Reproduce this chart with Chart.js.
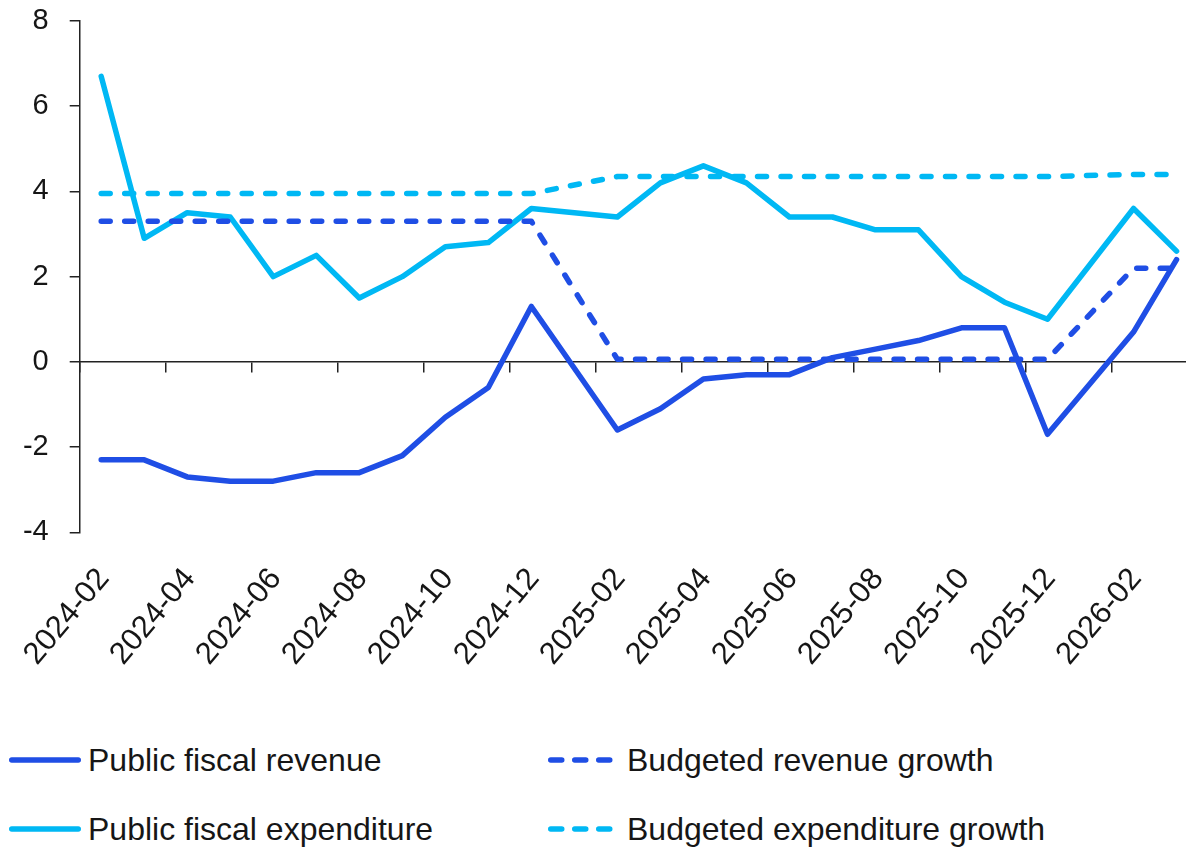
<!DOCTYPE html>
<html>
<head>
<meta charset="utf-8">
<script src="https://cdn.jsdelivr.net/npm/chart.js@4.4.1/dist/chart.umd.min.js"></script>
<style>
  html, body { margin: 0; padding: 0; background: #fff; }
  #wrap { position: relative; width: 1186px; height: 847px; overflow: hidden;
          font-family: "Liberation Sans", Arial, sans-serif; }
  #chart { position: absolute; left: 0; top: 0; }
  .lg-sample { position: absolute; }
  .lg-text { position: absolute; font-size: 32px; line-height: 36px; color: #161616; white-space: nowrap; }
</style>
</head>
<body>
<div id="wrap">
  <canvas id="chart" width="1186" height="700"></canvas>
  <div id="legend"></div>
</div>
<script>
// Monthly readings, 2024-02 .. 2026-03 (January is reported together with February)
const months = [
  '2024-02','2024-03','2024-04','2024-05','2024-06','2024-07','2024-08','2024-09',
  '2024-10','2024-11','2024-12','2025-01','2025-02','2025-03','2025-04','2025-05',
  '2025-06','2025-07','2025-08','2025-09','2025-10','2025-11','2025-12','2026-01',
  '2026-02','2026-03'
];

// Year-on-year growth, %
const revenue = [
  -2.3, -2.3, -2.7, -2.8, -2.8, -2.6, -2.6, -2.2, -1.3, -0.6, 1.3, null,
  -1.6, -1.1, -0.4, -0.3, -0.3, 0.1, 0.3, 0.5, 0.8, 0.8, -1.7, null,
  0.7, 2.4
];
const expenditure = [
  6.7, 2.9, 3.5, 3.4, 2.0, 2.5, 1.5, 2.0, 2.7, 2.8, 3.6, null,
  3.4, 4.2, 4.6, 4.2, 3.4, 3.4, 3.1, 3.1, 2.0, 1.4, 1.0, null,
  3.6, 2.6
];
const budgetRevenue = [
  3.3, 3.3, 3.3, 3.3, 3.3, 3.3, 3.3, 3.3, 3.3, 3.3, 3.3, null,
  0.06, 0.06, 0.06, 0.06, 0.06, 0.06, 0.06, 0.06, 0.06, 0.06, 0.06, null,
  2.2, 2.2
];
const budgetExpenditure = [
  3.95, 3.95, 3.95, 3.95, 3.95, 3.95, 3.95, 3.95, 3.95, 3.95, 3.95, null,
  4.35, 4.35, 4.35, 4.35, 4.35, 4.35, 4.35, 4.35, 4.35, 4.35, 4.35, null,
  4.4, 4.4
];

const yMin = -4, yMax = 8, yStep = 2;
const xTickStep = 2;            // label every other month
const xMax = 25.72;             // axis runs a little past the last month

const DARK_BLUE = '#1F4EE5';
const CYAN = '#00B8F4';
const AXIS = '#222';
const TEXT = '#161616';
const FONT = '"Liberation Sans", Arial, sans-serif';

// each month sits in the middle of its slot on the axis
const toPoints = vals => months.map((m, i) => ({ x: i + 0.5, y: vals[i] }));

const line = (label, vals, color, dashed) => ({
  label,
  data: toPoints(vals),
  borderColor: color,
  backgroundColor: color,
  borderWidth: 5.5,
  borderDash: dashed ? [9, 14.5] : [],
  borderCapStyle: 'round',
  borderJoinStyle: 'round',
  pointRadius: 0,
  tension: 0,
  spanGaps: true,
  xAxisID: 'x',
  yAxisID: 'y'
});

const CANVAS_H = 700;
const PLOT_BOTTOM = 532.3;
const PLOT_LEFT = 79.7;

const chart = new Chart(document.getElementById('chart'), {
  type: 'line',
  data: {
    datasets: [
      line('Public fiscal revenue', revenue, DARK_BLUE, false),
      line('Budgeted revenue growth', budgetRevenue, DARK_BLUE, true),
      line('Public fiscal expenditure', expenditure, CYAN, false),
      line('Budgeted expenditure growth', budgetExpenditure, CYAN, true)
    ]
  },
  options: {
    responsive: false,
    animation: false,
    devicePixelRatio: 1,
    layout: { padding: { top: 21, left: 0, right: 0, bottom: 0 } },
    plugins: { legend: { display: false }, tooltip: { enabled: false } },
    scales: {
      // month labels along the bottom
      x: {
        type: 'linear', position: 'bottom', min: 0, max: xMax,
        grid: { display: false, drawTicks: false },
        border: { display: false },
        ticks: {
          stepSize: xTickStep, autoSkip: false, includeBounds: false,
          minRotation: 50, maxRotation: 50, padding: 29, labelOffset: 24,
          color: TEXT, font: { family: FONT, size: 31 },
          callback: v => Number.isInteger(v) ? months[v] : ''
        },
        afterFit: s => { s.height = CANVAS_H - PLOT_BOTTOM; s.paddingLeft = 0; s.paddingRight = 0; }
      },
      // horizontal axis line through zero with tick marks
      x0: {
        type: 'linear', position: { y: 0 }, min: 0, max: xMax,
        grid: { drawOnChartArea: false, drawTicks: true, tickLength: 10, color: AXIS, lineWidth: 1.5 },
        border: { display: true, color: AXIS, width: 1.5 },
        ticks: { display: false, stepSize: xTickStep, includeBounds: false, autoSkip: false },
        afterFit: s => { s.paddingLeft = 0; s.paddingRight = 0; s.paddingTop = 0; s.paddingBottom = 0; }
      },
      y: {
        min: yMin, max: yMax,
        grid: { drawOnChartArea: false, drawTicks: true, tickLength: 10, color: AXIS, lineWidth: 1.5 },
        border: { display: true, color: AXIS, width: 1.5 },
        ticks: { stepSize: yStep, padding: 21, color: TEXT, font: { family: FONT, size: 29 } },
        afterFit: s => { s.width = PLOT_LEFT; s.paddingTop = 0; s.paddingBottom = 0; }
      }
    }
  }
});

// Legend: two columns, two rows, built from the datasets
const legendCols = [{ sample: 9, text: 88 }, { sample: 548, text: 627 }];
const legendRows = [760, 829];
const legendEl = document.getElementById('legend');
chart.data.datasets.forEach((ds, i) => {
  const col = legendCols[i % 2];
  const rowY = legendRows[Math.floor(i / 2)];
  const dashed = ds.borderDash && ds.borderDash.length;
  const w = dashed ? 66 : 72;
  const svgNS = 'http://www.w3.org/2000/svg';
  const svg = document.createElementNS(svgNS, 'svg');
  svg.setAttribute('width', w);
  svg.setAttribute('height', 10);
  svg.setAttribute('class', 'lg-sample');
  svg.style.left = col.sample + 'px';
  svg.style.top = (rowY - 5) + 'px';
  const ln = document.createElementNS(svgNS, 'line');
  ln.setAttribute('x1', 2.75); ln.setAttribute('x2', w - 2.75);
  ln.setAttribute('y1', 5); ln.setAttribute('y2', 5);
  ln.setAttribute('stroke', ds.borderColor);
  ln.setAttribute('stroke-width', 5.5);
  ln.setAttribute('stroke-linecap', 'round');
  if (dashed) ln.setAttribute('stroke-dasharray', '11 13');
  svg.appendChild(ln);
  legendEl.appendChild(svg);
  const t = document.createElement('div');
  t.className = 'lg-text';
  t.textContent = ds.label;
  t.style.left = col.text + 'px';
  t.style.top = (rowY - 18) + 'px';
  legendEl.appendChild(t);
});
</script>
</body>
</html>
